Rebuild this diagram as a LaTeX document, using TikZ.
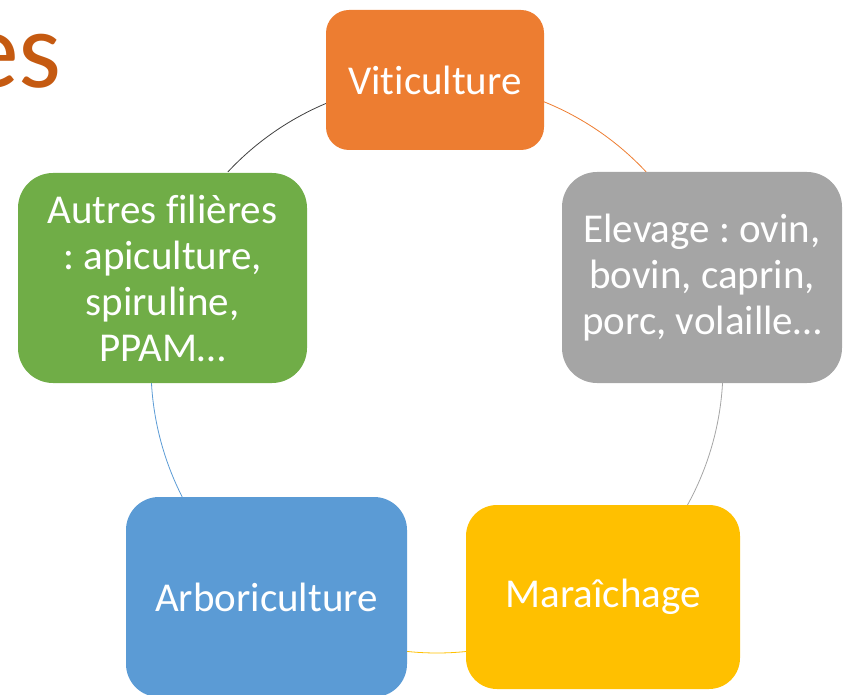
\documentclass[tikz,border=0pt]{standalone}
\usepackage{fontspec}
\setmainfont{Carlito}[Ligatures=NoCommon]
\usetikzlibrary{calc}
\frenchspacing
\definecolor{cOrange}{HTML}{ED7D31}
\definecolor{cGray}{HTML}{A5A5A5}
\definecolor{cYellow}{HTML}{FFC000}
\definecolor{cBlue}{HTML}{5B9BD5}
\definecolor{cGreen}{HTML}{70AD47}
\definecolor{cTitle}{HTML}{C55A11}
\definecolor{cDark}{HTML}{404040}
\tikzset{
  cyclebox/.style={inner sep=0pt, text=white, align=center,
    font=\frenchspacing\fontsize{41}{46}\selectfont},
  ringline/.style={line width=0.8pt}
}
\begin{document}
\begin{tikzpicture}[x=1pt,y=-1pt]
\useasboundingbox (0,0) rectangle (843,695);
\coordinate (ring) at (437,367);
% arc end points on the ring
\coordinate (p1) at ($(ring)+(223:286)$);
\coordinate (p2) at ($(ring)+(291.8:286)$);
\coordinate (p3) at ($(ring)+(3.2:286)$);
\coordinate (p4) at ($(ring)+(84.2:286)$);
\coordinate (p5) at ($(ring)+(153:286)$);
% connectors
\draw[ringline, cDark]   (p1) arc[start angle=223,  end angle=247.4, radius=286];
\draw[ringline, cOrange] (p2) arc[start angle=291.8, end angle=317,  radius=286];
\draw[ringline, cGray]   (p3) arc[start angle=3.2,  end angle=28.9,  radius=286];
\draw[ringline, cYellow] (p4) arc[start angle=84.2, end angle=96,    radius=286];
\draw[ringline, cBlue]   (p5) arc[start angle=153,  end angle=176.8, radius=286];
% title fragment
\node[anchor=base east, inner sep=0pt, text=cTitle,
      font=\fontsize{110}{120}\selectfont] (title) at (62,88) {es};
% boxes
\node[cyclebox, fill=cOrange, rounded corners=23pt,
      minimum width=218pt, minimum height=140pt] (viti) at (435,80) {Viticulture};
\node[cyclebox, fill=cGray, rounded corners=35pt,
      minimum width=280pt, minimum height=211pt] (elev) at (702,277.5)
      {Elevage : ovin,\\ bovin, caprin,\\ porc, volaille…};
\node[cyclebox, fill=cYellow, rounded corners=31pt,
      minimum width=274pt, minimum height=184pt] (mara) at (603,597) {Maraîchage};
\node[cyclebox, fill=cBlue, rounded corners=33pt,
      minimum width=281pt, minimum height=200pt] (arbo) at (266.5,597) {Arboriculture};
\node[cyclebox, fill=cGreen, rounded corners=35pt,
      minimum width=289pt, minimum height=210pt] (autr) at (162.5,278)
      {Autres filières\\ : apiculture,\\ spiruline,\\ PPAM…};
\end{tikzpicture}
\end{document}
